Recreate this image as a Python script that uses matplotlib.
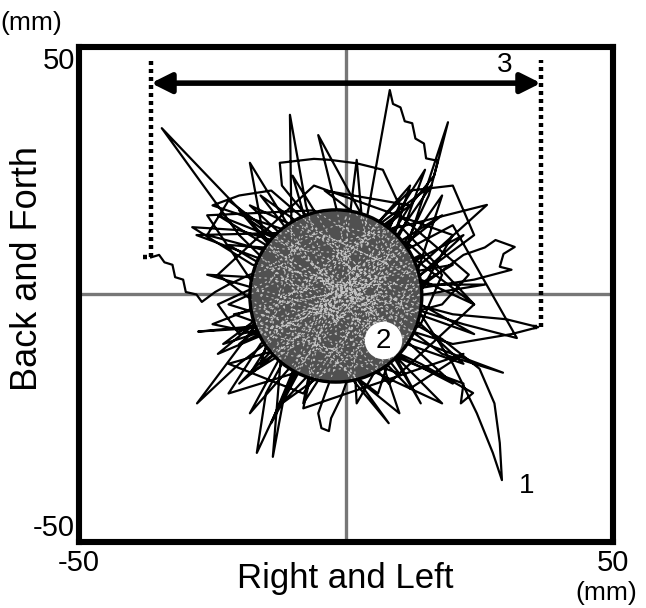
import matplotlib
matplotlib.use('Agg')
import matplotlib.pyplot as plt
from matplotlib.patches import Ellipse, FancyArrowPatch

plt.rcParams['font.family'] = ['Liberation Sans', 'DejaVu Sans']

# 足圧中心の軌跡 (mm)
trace_x = [-36.5, -35.0, -34.0, -32.5, -32.0, -30.5, -30.0, -28.0, -27.0, -24.5, -22.0, -18.0, -12.0,
           -6.0, -2.0, 4.0, -4.0, -20.0, -34.5, -26.0, -18.0, -5.0, 8.0, -10.0, -10.5, -7.5, -2.0, 6.0,
           -5.2, -1.5, 3.0, -8.0, -16.7, -15.0, -9.0, 2.0, 8.2, 8.8, 10.2, 11.0, 12.4, 13.0, 14.6, 15.0,
           17.2, 16.5, 12.0, 5.0, -3.0, -14.0, -27.9, -20.0, -8.0, 10.0, 19.1, 17.5, 15.5, 12.0, 0.0,
           -12.0, -13.7, -11.5, -6.0, 4.0, 14.0, 20.0, 24.5, 27.5, 29.2, 28.8, 27.8, 25.0, 18.0, 6.0,
           -6.0, -17.5, -28.8, -20.0, -8.0, 4.0, 26.4, 15.0, 2.0, -3.9, -5.2, -4.6, -3.2, -2.8, -1.0,
           2.0, 12.0, 22.0, 26.0, 28.0, 31.6, 29.5, 28.8, 31.0, 24.0, 12.0, 0.0, -12.0, -12.4, -6.0,
           -3.0, 2.0, 6.9, 10.0, 6.0, -6.0, -27.7, -18.0, -8.0, 6.0, 20.0, 30.0, 36.0, 31.0, 20.0, 8.0,
           -4.0, -18.0, -15.5, -10.0, 2.0, 14.0, 23.8, 21.5, 22.0, 17.0, 8.0, -2.0, 2.0, 3.0, 6.0, 10.0,
           29.4, 18.0, 8.0, -6.0, -22.0, -26.0, -12.0, 0.0, 14.8, 11.0, 6.0, -2.0, -10.0, -22.0, -16.0,
           -6.0, 6.0, 20.0, 32.0, 22.0, 10.0, -2.0, -14.0, -24.0, -20.0, -10.0, 2.0, 12.0, 18.0, 14.0,
           4.0, -6.0, -14.0, -10.0, -2.0, 6.0, 12.0, 8.0, -2.0, -12.0, -16.0, -8.0, 4.0, 10.0, 0.0,
           -10.0, -14.0, -4.0, 8.0, 4.0, -22.0, -8.0, 18.0, 6.0, -24.0, -6.0, 20.0, 2.0, 0.0, -8.0,
           22.0, 12.0, -20.0, 8.0, 24.0, -4.0, 12.0, -23.0, 6.0,
           -18.0, -6.0, -24.0, -2.0, -20.0, 4.0, -22.0, 0.0, -26.0, 6.0, -21.0, 10.0, -16.0, 2.0,
           -14.0, -4.0, -8.0, 4.0, 14.0, 0.0, 18.0, -6.0, 22.0, 2.0, 20.0, -4.0, 16.0, -2.0, -10.0,
           6.0, -24.0, 4.0, 24.0, -2.0, 26.0, -8.0, -18.0, 8.0, -25.0, 2.0, 12.0, -4.0, 18.0, -6.0,
           10.0, 0.0, -20.0, 14.0, -12.0, 6.0, 22.0, -2.0, -18.0, 4.0, 20.0, -12.0, 8.0, -4.0, -22.0,
           10.0, 24.0, -8.0, -16.0, 2.0,
           -28.0, -10.0, -25.0, -20.0, -14.0, 0.0, 12.0, 20.0, 24.0, 14.0, -6.0, -26.0, -16.0, 4.0,
           18.0, 23.0, 10.0, -4.0]
trace_y = [7.5, 8.0, 6.5, 6.0, 3.5, 3.0, 0.5, 0.0, -1.5, 0.5, 2.0, 4.0, 6.0,
           3.0, 8.0, 2.0, -5.0, 12.0, 33.6, 24.0, 15.0, 5.0, -6.0, -3.0, 36.3, 18.0, -2.0, 10.0,
           32.2, 16.0, -10.0, -12.0, -32.0, -20.0, -8.0, 4.0, 41.3, 38.5, 37.8, 35.0, 34.6, 31.5, 30.5, 27.5,
           27.0, 24.0, 18.0, 6.0, 0.0, -2.0, -22.0, -14.0, -4.0, 5.0, 34.8, 28.0, 20.0, 12.0, -4.0,
           -10.0, -32.8, -20.0, -10.0, 2.0, -4.0, -14.0, -24.0, -32.0, -37.5, -30.0, -22.0, -15.0, -9.0, -2.0,
           4.0, 6.0, 13.6, 13.0, 9.0, 12.0, 18.1, 7.0, -3.0, -20.0, -24.0, -27.0, -27.6, -25.0, -21.0,
           -12.0, 0.0, 8.0, 9.5, 11.0, 9.6, 8.2, 5.6, 5.0, 3.0, 1.0, 6.0, 22.0, 26.6, 27.4,
           27.2, 26.5, 25.2, 18.0, 8.0, -6.0, -7.5, -6.5, -3.0, 0.0, -4.0, -5.0, -6.6, -8.0, -10.0, -6.0,
           2.0, 26.6, 12.0, 2.0, -8.0, -14.0, -19.9, -22.0, -18.0, -16.0, -12.0, -8.0, 27.2, 15.0, 2.0, -8.0,
           -15.8, -12.0, -4.0, 6.0, 19.0, 12.0, 8.0, 0.0, 25.2, 14.0, 4.0, -6.0, -16.0, -20.0, -10.0,
           -2.0, 6.0, 14.0, -8.8, -6.0, -2.0, 0.0, 3.0, -2.0, -8.0, -6.0, 2.0, 10.0, 4.0, -6.0,
           -14.0, -16.0, -6.0, 10.0, 14.0, 12.0, 4.0, -10.0, -14.0, -12.0, 0.0, 12.0, 10.0, -2.0, -10.0,
           -8.0, 6.0, 12.0, 6.0, -6.0, -14.0, -20.0, 20.0, -20.0, 4.0, 22.0, 12.0, -22.0, 16.0, -23.0,
           -12.0, -19.0, 17.0, -18.0, -2.0, 21.0, 18.0, -10.0, 0.0,
           -16.0, 4.0, -12.0, -2.0, -18.0, 8.0, 10.0, -4.0, 4.0, 2.0, -4.0, -16.0, 20.0, 6.0,
           -26.0, 0.0, -22.0, -2.0, -22.0, 4.0, 16.0, -4.0, 12.0, -8.0, -18.0, 6.0, 22.0, -6.0, 24.0,
           -4.0, 16.0, 4.0, -8.0, 2.0, 2.0, -4.0, -24.0, 8.0, -6.0, -12.0, 22.0, 2.0, -22.0, -10.0,
           -24.0, 8.0, -10.0, 8.0, -22.0, -8.0, -14.0, 10.0, 18.0, -4.0, 6.0, 0.0, -26.0, -8.0, -2.0,
           14.0, -2.0, 14.0, -14.0, 0.0,
           12.0, 12.5, 18.0, 20.0, 21.0, 8.0, 21.0, 22.0, 12.0, 4.0, 17.0, 16.0, 0.0, -6.0,
           -2.0, 4.0, 16.0, 4.0]

# 95%楕円 (中心, 直径 mm)
circle_center = (-1.9, -0.3)
circle_w, circle_h = 32.2, 34.8

# 左右の最大振れ幅 (3)
range_left, range_right = -36.5, 36.5
range_top = 47.4
range_left_bottom, range_right_bottom = 7.5, -6.6
arrow_y = 42.7

ticks = [-50, 50]
tick_labels = ['-50', '50']

fig = plt.figure(figsize=(6.46, 6.08), dpi=100)
ax = fig.add_axes([0.1223, 0.1086, 0.8266, 0.8141])
ax.set_xlim(-50, 50)
ax.set_ylim(-50, 50)

# 十字線
ax.axhline(0, color='#777777', lw=2.4, zorder=1)
ax.axvline(0, color='#777777', lw=2.4, zorder=1)

# 軌跡
ax.plot(trace_x, trace_y, color='black', lw=1.6, zorder=2, solid_joinstyle='round')

# 楕円 (2)
ell = Ellipse(circle_center, circle_w, circle_h, facecolor='#505050', edgecolor='none', zorder=3)
ax.add_patch(ell)
inner, = ax.plot(trace_x, trace_y, color='white', lw=0.8, alpha=0.65, zorder=4,
                 linestyle=(0, (2, 3)))
inner.set_clip_path(ell)
ax.add_patch(Ellipse(circle_center, circle_w, circle_h, facecolor='none', edgecolor='black',
                     lw=2.4, zorder=5))

# 番号
ax.plot([6.9], [-9.2], 'o', ms=27, mfc='white', mec='none', zorder=6)
ax.text(6.9, -9.4, '2', fontsize=20, ha='center', va='center', zorder=7)
ax.text(33.9, -38.6, '1', fontsize=20, ha='center', va='center', zorder=7)
ax.text(29.8, 46.3, '3', fontsize=20, ha='center', va='center', zorder=7)

# 点線と矢印
ax.plot([range_left - 1.5, range_left, range_left], [range_left_bottom, range_left_bottom, range_top],
        color='black', lw=3.2, linestyle=(0, (0.9, 0.9)), zorder=6)
ax.plot([range_right - 1.5, range_right, range_right], [range_right_bottom, range_right_bottom, range_top],
        color='black', lw=3.2, linestyle=(0, (0.9, 0.9)), zorder=6)
arr = FancyArrowPatch((range_left, arrow_y), (range_right, arrow_y), arrowstyle='<|-|>',
                      mutation_scale=30, lw=4, color='black', shrinkA=0, shrinkB=0, zorder=6)
ax.add_patch(arr)

# 軸
for s in ax.spines.values():
    s.set_linewidth(4.4)
ax.set_xticks(ticks)
ax.set_xticklabels(tick_labels)
ax.set_yticks(ticks)
ax.set_yticklabels(tick_labels)
ax.tick_params(length=0, labelsize=21, pad=5)
ax.tick_params(axis='y', pad=3)
yl = ax.get_yticklabels()
yl[0].set_va('bottom')
yl[1].set_va('top')

fig.text(0.534, 0.049, 'Right and Left', fontsize=25, ha='center', va='center')
fig.text(0.042, 0.559, 'Back and Forth', fontsize=26, ha='center', va='center', rotation=90)
fig.text(0.049, 0.962, '(mm)', fontsize=19, ha='center', va='center')
fig.text(0.938, 0.025, '(mm)', fontsize=19, ha='center', va='center')

plt.savefig('out.png', dpi=100)
